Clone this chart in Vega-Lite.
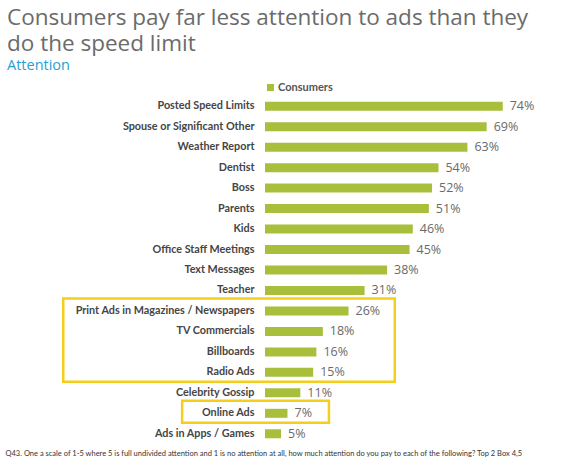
{
  "$schema": "https://vega.github.io/schema/vega-lite/v6.json",
  "autosize": {"type": "none"},
  "padding": {"left": 265, "top": 96, "right": 46, "bottom": 22},
  "width": 257,
  "height": 348,
  "background": "white",
  "config": {"view": {"stroke": null}, "font": "Open Sans"},
  "title": {
    "text": ["Consumers pay far less attention to ads than they", "do the speed limit"],
    "subtitle": "Attention",
    "anchor": "start",
    "frame": "group",
    "dx": -258,
    "offset": 10,
    "fontSize": 22.5,
    "fontWeight": "normal",
    "lineHeight": 26,
    "color": "#6b6b6b",
    "subtitleFontSize": 14.5,
    "subtitleColor": "#2a9fd0",
    "subtitlePadding": 3
  },
  "datasets": {
    "attention": [
      {"item": "Posted Speed Limits", "share": 0.74, "group": "Consumers"},
      {"item": "Spouse or Significant Other", "share": 0.69, "group": "Consumers"},
      {"item": "Weather Report", "share": 0.63, "group": "Consumers"},
      {"item": "Dentist", "share": 0.54, "group": "Consumers"},
      {"item": "Boss", "share": 0.52, "group": "Consumers"},
      {"item": "Parents", "share": 0.51, "group": "Consumers"},
      {"item": "Kids", "share": 0.46, "group": "Consumers"},
      {"item": "Office Staff Meetings", "share": 0.45, "group": "Consumers"},
      {"item": "Text Messages", "share": 0.38, "group": "Consumers"},
      {"item": "Teacher", "share": 0.31, "group": "Consumers"},
      {"item": "Print Ads in Magazines / Newspapers", "share": 0.26, "group": "Consumers"},
      {"item": "TV Commercials", "share": 0.18, "group": "Consumers"},
      {"item": "Billboards", "share": 0.16, "group": "Consumers"},
      {"item": "Radio Ads", "share": 0.15, "group": "Consumers"},
      {"item": "Celebrity Gossip", "share": 0.11, "group": "Consumers"},
      {"item": "Online Ads", "share": 0.07, "group": "Consumers"},
      {"item": "Ads in Apps / Games", "share": 0.05, "group": "Consumers"}
    ],
    "boxes": [
      {"from": "Print Ads in Magazines / Newspapers", "to": "Radio Ads", "left": -0.628, "right": 0.404},
      {"from": "Online Ads", "to": "Online Ads", "left": -0.258, "right": 0.199}
    ]
  },
  "layer": [
    {
      "data": {"name": "attention"},
      "mark": {"type": "bar", "color": "#a7bf3a"},
      "encoding": {
        "y": {
          "field": "item",
          "type": "nominal",
          "sort": null,
          "scale": {"paddingInner": 0.56, "paddingOuter": 0.28},
          "axis": {
            "title": null,
            "domain": false,
            "ticks": false,
            "labelPadding": 11,
            "labelFont": "Lato",
            "labelFontSize": 10.8,
            "labelFontWeight": "bold",
            "labelColor": "#454545",
            "labelLimit": 300
          }
        },
        "x": {
          "field": "share",
          "type": "quantitative",
          "scale": {"domain": [0, 0.8]},
          "axis": {
            "title": "Q43. One a scale of 1-5 where 5 is full undivided attention and 1 is no attention at all, how much attention do you pay to each of the following? Top 2 Box 4,5",
            "labels": false,
            "ticks": false,
            "domain": false,
            "grid": false,
            "titleAnchor": "start",
            "titleAlign": "left",
            "titleX": -260,
            "titleY": 9,
            "titleBaseline": "middle",
            "titleFont": "Lato",
            "titleFontSize": 7.5,
            "titleFontWeight": "normal",
            "titleColor": "#333333"
          }
        },
        "color": {
          "field": "group",
          "type": "nominal",
          "scale": {"range": ["#a7bf3a"]},
          "legend": {
            "title": null,
            "orient": "none",
            "legendX": 0,
            "legendY": -14,
            "symbolType": "square",
            "symbolSize": 50,
            "symbolStrokeWidth": 0,
            "labelFont": "Lato",
            "labelFontSize": 11,
            "labelFontWeight": "bold",
            "labelColor": "#555555",
            "labelOffset": 2
          }
        }
      }
    },
    {
      "data": {"name": "attention"},
      "mark": {"type": "text", "align": "left", "dx": 7, "fontSize": 12.5, "color": "#6a6a6a"},
      "encoding": {
        "y": {"field": "item", "type": "nominal", "sort": null},
        "x": {"field": "share", "type": "quantitative"},
        "text": {"field": "share", "type": "quantitative", "format": ".0%"}
      }
    },
    {
      "data": {"name": "boxes"},
      "mark": {"type": "rect", "fill": null, "stroke": "#f3cf1c", "strokeWidth": 2.5, "yOffset": -8, "y2Offset": 5},
      "encoding": {
        "y": {"field": "from", "type": "nominal", "sort": null, "bandPosition": 0},
        "y2": {"field": "to", "bandPosition": 1},
        "x": {"field": "left", "type": "quantitative"},
        "x2": {"field": "right"}
      }
    }
  ]
}
